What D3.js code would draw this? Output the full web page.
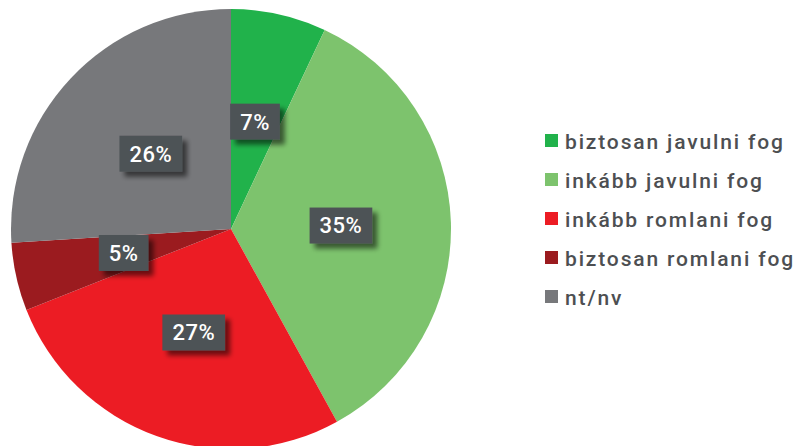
<!DOCTYPE html>
<html>
<head>
<meta charset="utf-8">
<script src="https://cdn.jsdelivr.net/npm/d3@7"></script>
<style>
  html, body { margin: 0; padding: 0; background: #fff; overflow: hidden; }
  svg { display: block; }
</style>
</head>
<body>
<div id="chart"></div>
<script>
// chart data
const categories = ["biztosan javulni fog", "inkább javulni fog", "inkább romlani fog", "biztosan romlani fog", "nt/nv"];
const values = [7, 35, 27, 5, 26];
const colors = ["#21b24b", "#7dc36d", "#ec1c24", "#9b1b1f", "#77787b"];

const width = 798, height = 446;
const cx = 231, cy = 229, radius = 220;

const svg = d3.select("#chart")
    .append("svg")
    .attr("width", width)
    .attr("height", height);

// drop shadow for the value boxes
const defs = svg.append("defs");
const shadow = defs.append("filter")
    .attr("id", "shadow")
    .attr("x", "-30%").attr("y", "-30%")
    .attr("width", "170%").attr("height", "170%");
shadow.append("feGaussianBlur").attr("in", "SourceAlpha").attr("stdDeviation", 2.5);
shadow.append("feOffset").attr("dx", 5).attr("dy", 5).attr("result", "off");
shadow.append("feComponentTransfer").append("feFuncA").attr("type", "linear").attr("slope", 0.55);
const merge = shadow.append("feMerge");
merge.append("feMergeNode");
merge.append("feMergeNode").attr("in", "SourceGraphic");

const data = categories.map((c, i) => ({ name: c, value: values[i], color: colors[i] }));

const pie = d3.pie().value(d => d.value).sort(null);
const arc = d3.arc().innerRadius(0).outerRadius(radius);
const labelArc = d3.arc().innerRadius(radius * 0.5).outerRadius(radius * 0.5);

const g = svg.append("g").attr("transform", `translate(${cx},${cy})`);
const arcs = pie(data);

g.selectAll("path.slice")
    .data(arcs)
    .join("path")
    .attr("class", "slice")
    .attr("d", arc)
    .attr("fill", d => d.data.color);

// value labels in dark boxes
const labels = g.selectAll("g.lbl")
    .data(arcs)
    .join("g")
    .attr("class", "lbl")
    .attr("transform", d => `translate(${labelArc.centroid(d)})`);

labels.each(function (d) {
    const lg = d3.select(this);
    const rect = lg.append("rect").attr("fill", "#4d5256").attr("filter", "url(#shadow)");
    const txt = lg.append("text")
        .attr("text-anchor", "middle")
        .attr("dy", "0.36em")
        .attr("fill", "#fff")
        .style("font-family", "Roboto, 'Open Sans', sans-serif")
        .style("font-weight", 500)
        .style("font-size", "22px")
        .style("letter-spacing", "0.5px")
        .text(d.data.value + "%");
    const w = txt.node().getComputedTextLength();
    rect.attr("x", -w / 2 - 10).attr("y", -18).attr("width", w + 20).attr("height", 36);
});

// legend
const legend = svg.append("g").attr("transform", "translate(545,141)");
const rows = legend.selectAll("g")
    .data(data)
    .join("g")
    .attr("transform", (d, i) => `translate(0,${i * 39})`);

rows.append("rect")
    .attr("x", 0).attr("y", -7)
    .attr("width", 13).attr("height", 13)
    .attr("fill", d => d.color);

rows.append("text")
    .attr("x", 20)
    .attr("y", 0)
    .attr("dy", "0.36em")
    .attr("fill", "#4d4f52")
    .style("font-family", "Roboto, 'Open Sans', sans-serif")
    .style("font-weight", 500)
    .style("font-size", "21px")
    .style("letter-spacing", "1.85px")
    .text(d => d.name);
</script>
</body>
</html>
